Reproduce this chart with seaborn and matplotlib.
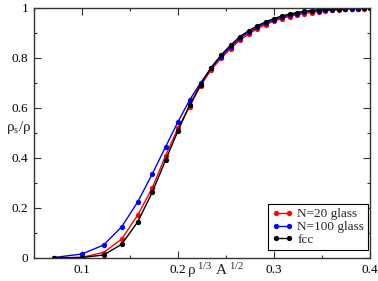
import matplotlib
matplotlib.use('Agg')
import matplotlib.pyplot as plt
import seaborn as sns
import pandas as pd
import numpy as np
from matplotlib.ticker import MultipleLocator

# rho^(1/3) A^(1/2) values
x_vals = [0.0707, 0.1000, 0.1225, 0.1414, 0.1581, 0.1732, 0.1871, 0.2000,
          0.2121, 0.2236, 0.2345, 0.2449, 0.2550, 0.2646, 0.2739, 0.2828,
          0.2915, 0.3000, 0.3082, 0.3162, 0.3240, 0.3317, 0.3391, 0.3464,
          0.3536, 0.3606, 0.3674, 0.3742, 0.3808, 0.3873, 0.3937, 0.4000]

n20_glass = [0.000, 0.003, 0.022, 0.076, 0.172, 0.280, 0.410, 0.519,
             0.606, 0.690, 0.752, 0.799, 0.838, 0.872, 0.897, 0.917,
             0.934, 0.948, 0.958, 0.966, 0.973, 0.978, 0.982, 0.986,
             0.989, 0.991, 0.993, 0.995, 0.996, 0.997, 0.998, 0.999]

n100_glass = [0.002, 0.016, 0.052, 0.125, 0.225, 0.336, 0.445, 0.545,
              0.632, 0.701, 0.760, 0.806, 0.845, 0.879, 0.904, 0.923,
              0.940, 0.953, 0.963, 0.971, 0.978, 0.983, 0.987, 0.990,
              0.992, 0.994, 0.996, 0.997, 0.998, 0.998, 0.999, 1.000]

fcc = [0.000, 0.002, 0.012, 0.055, 0.145, 0.263, 0.392, 0.509,
       0.612, 0.694, 0.762, 0.812, 0.852, 0.886, 0.910, 0.929,
       0.945, 0.958, 0.968, 0.976, 0.982, 0.987, 0.990, 0.993,
       0.995, 0.996, 0.997, 0.998, 0.999, 0.999, 1.000, 1.000]

labels = ['N=20 glass', 'N=100 glass', 'fcc']
colors = ['#ff0000', '#0000ff', '#000000']

df = pd.DataFrame({'x': x_vals * 3,
                   'y': n20_glass + n100_glass + fcc,
                   'series': [l for l in labels for _ in x_vals]})

sns.set_style('ticks')
plt.rcParams['font.family'] = ['Liberation Serif', 'DejaVu Serif']
plt.rcParams['mathtext.fontset'] = 'stix'

fig = plt.figure(figsize=(3.78, 2.81), dpi=100)
ax = fig.add_axes([34 / 378, 23 / 281, 336 / 378, 250 / 281])

sns.lineplot(data=df, x='x', y='y', hue='series', hue_order=labels,
             palette=colors, marker='o', markersize=3.8, markeredgewidth=0,
             linewidth=1, ax=ax, legend=False)

ax.set_xlim(0.05, 0.4)
ax.set_ylim(0, 1)
ax.xaxis.set_minor_locator(MultipleLocator(0.05))
ax.yaxis.set_minor_locator(MultipleLocator(0.1))
ax.set_xticks([0.1, 0.2, 0.3, 0.4])
ax.set_xticklabels(['0.1', '0.2', '0.3', '0.4'])
ax.set_yticks([0, 0.2, 0.4, 0.6, 0.8, 1])
ax.set_yticklabels(['0', '0.2', '0.4', '0.6', '0.8', '1'])
ax.tick_params(which='both', direction='in', top=True, right=True,
               labelsize=9.5, colors='#333333', labelcolor='black')
ax.tick_params(which='major', length=5, width=0.8, pad=4)
ax.tick_params(which='minor', length=2.5, width=0.8)
for s in ax.spines.values():
    s.set_color('#333333')
    s.set_linewidth(1)

ax.set_xlabel('ρ$^{\\mathregular{\\ 1/3}}$ A$^{\\mathregular{\\ 1/2}}$', fontsize=11)
ax.xaxis.set_label_coords(0.54, -0.088)
ax.xaxis.label.set_va('bottom')
ax.set_ylabel('ρ$_{\\mathregular{s}}$/ρ', fontsize=11, rotation=0)
ax.yaxis.set_label_coords(-0.045, 0.52)
ax.yaxis.label.set_ha('center')
ax.yaxis.label.set_va('center')

handles = [plt.Line2D([], [], color=c, marker='o', markersize=3.8,
                      markeredgewidth=0, linewidth=1) for c in colors]
leg = ax.legend(handles, labels, loc='lower right', bbox_to_anchor=(0.994, 0.032),
                borderaxespad=0, numpoints=2, fontsize=9.5, handlelength=1.6,
                handletextpad=0.3, labelspacing=0.05, borderpad=0.3,
                fancybox=False, framealpha=1, edgecolor='black')
leg.get_frame().set_linewidth(0.8)

fig.savefig('out.png', dpi=100)
